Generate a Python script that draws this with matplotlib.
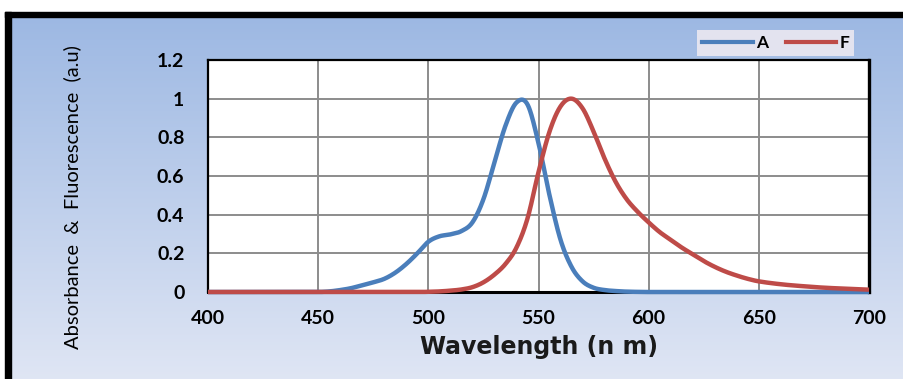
import numpy as np
import matplotlib
matplotlib.use('Agg')
import matplotlib.pyplot as plt
from matplotlib.lines import Line2D

# data
wl_a = [400, 440, 450, 455, 460, 465, 470, 475, 480, 485, 490, 495, 500, 505, 510, 515,
        520, 525, 530, 535, 540, 545, 550, 555, 560, 565, 570, 575, 580, 585, 590, 600,
        650, 700]
abs_a = [0, 0, 0, 0.003, 0.01, 0.02, 0.035, 0.05, 0.068, 0.1, 0.145, 0.2, 0.26, 0.288,
         0.298, 0.315, 0.36, 0.48, 0.67, 0.86, 0.98, 0.97, 0.77, 0.5, 0.27, 0.13, 0.055,
         0.022, 0.01, 0.005, 0.002, 0, 0, 0]

wl_f = [400, 450, 495, 500, 505, 510, 515, 520, 525, 530, 535, 540, 545, 550, 555, 560,
        565, 570, 575, 580, 585, 590, 595, 600, 605, 610, 615, 620, 625, 630, 635, 640,
        645, 650, 660, 670, 680, 690, 700]
flu_f = [0, 0, 0, 0.001, 0.003, 0.007, 0.013, 0.025, 0.05, 0.09, 0.145, 0.23, 0.38, 0.62,
         0.83, 0.96, 1.0, 0.95, 0.83, 0.69, 0.57, 0.48, 0.415, 0.36, 0.31, 0.27, 0.23,
         0.195, 0.16, 0.13, 0.105, 0.085, 0.068, 0.055, 0.04, 0.03, 0.022, 0.017, 0.012]

xticks = [400, 450, 500, 550, 600, 650, 700]
yticks = [0, 0.2, 0.4, 0.6, 0.8, 1, 1.2]
ytick_labels = ['0', '0.2', '0.4', '0.6', '0.8', '1', '1.2']


def smooth(x, y, n=30):
    # cubic hermite with centred slopes (like excel's smoothed line)
    x = np.asarray(x, float)
    y = np.asarray(y, float)
    m = np.zeros_like(y)
    m[1:-1] = (y[2:] - y[:-2]) / (x[2:] - x[:-2])
    m[0] = (y[1] - y[0]) / (x[1] - x[0])
    m[-1] = (y[-1] - y[-2]) / (x[-1] - x[-2])
    xs, ys = [], []
    t = np.linspace(0, 1, n, endpoint=False)
    h00 = 2 * t**3 - 3 * t**2 + 1
    h10 = t**3 - 2 * t**2 + t
    h01 = -2 * t**3 + 3 * t**2
    h11 = t**3 - t**2
    for i in range(len(x) - 1):
        h = x[i + 1] - x[i]
        xs.append(x[i] + t * h)
        ys.append(h00 * y[i] + h10 * h * m[i] + h01 * y[i + 1] + h11 * h * m[i + 1])
    xs.append([x[-1]])
    ys.append([y[-1]])
    return np.concatenate(xs), np.clip(np.concatenate(ys), 0, None)


W, H = 904, 379
fig = plt.figure(figsize=(W / 100, H / 100), dpi=100)
fig.patch.set_facecolor('white')

# gradient background
bg = fig.add_axes([0, 0, 1, 1], zorder=-10)
bg.set_axis_off()
top = np.array([0.615, 0.722, 0.890])
bot = np.array([0.875, 0.900, 0.957])
g = np.linspace(0, 1, 256)[:, None]
img = top[None, None, :] * (1 - g[..., None]) + bot[None, None, :] * g[..., None]
img = np.repeat(img, 2, axis=1)
bg.imshow(img, aspect='auto', extent=[0, W, H, 16])
bg.set_xlim(0, W)
bg.set_ylim(H, 0)
bg.fill_between([0, W], 0, 12, color='white', zorder=1)
bg.fill_between([0, 5], 0, H, color='white', zorder=1)
bg.fill_between([5, W], 12, 17, color='black', zorder=2)
bg.fill_between([5, 11], 12, H, color='black', zorder=2)

ax = fig.add_axes([208 / W, 1 - 292 / H, (869 - 208) / W, (292 - 60) / H])
ax.set_facecolor('white')

xa, ya = smooth(wl_a, abs_a)
xf, yf = smooth(wl_f, flu_f)
ax.plot(xa, ya, color='#4a7ebb', lw=3.2, solid_capstyle='butt', zorder=3, clip_on=False)
ax.plot(xf, yf, color='#be4b48', lw=3.2, solid_capstyle='butt', zorder=4, clip_on=False)

ax.set_xlim(400, 700)
ax.set_ylim(0, 1.2)
ax.set_xticks(xticks)
ax.set_yticks(yticks)
ax.set_yticklabels(ytick_labels)
ax.grid(True, color='#8c8c8c', lw=1.4)
ax.set_axisbelow(True)
ax.tick_params(axis='x', length=0, pad=13)
ax.tick_params(axis='y', length=0, pad=17)
for lab in ax.get_xticklabels() + ax.get_yticklabels():
    lab.set_fontfamily('Lato')
    lab.set_fontweight('bold')
    lab.set_fontsize(14)
for s in ax.spines.values():
    s.set_color('black')
    s.set_linewidth(1.6)
    s.set_zorder(2)
ax.spines['right'].set_linewidth(2.4)
ax.spines['bottom'].set_linewidth(2.2)

ax.set_xlabel('Wavelength (n m)', fontfamily='DejaVu Sans', fontweight='bold',
              fontsize=17, labelpad=6, color='#1a1a1a')
fig.text(72 / W, 1 - 197 / H, 'Absorbance  &  Fluorescence  (a.u)', rotation=90,
         ha='center', va='center', fontfamily='Lato', fontsize=14.5)

handles = [Line2D([], [], color='#4a7ebb', lw=3),
           Line2D([], [], color='#be4b48', lw=3)]
leg = fig.legend(handles, ['A', 'F'], loc='upper left',
                 bbox_to_anchor=(697 / W, 1 - 30 / H), ncol=2, frameon=True,
                 fancybox=False, handlelength=2.9, handletextpad=0.2,
                 columnspacing=1.0, borderpad=0.3, borderaxespad=0,
                 prop={'family': 'Lato', 'weight': 'bold', 'size': 12.5})
leg.get_frame().set_facecolor('#e3e3ef')
leg.get_frame().set_edgecolor('none')
leg.get_frame().set_alpha(1)

fig.savefig('out.png', dpi=100)
